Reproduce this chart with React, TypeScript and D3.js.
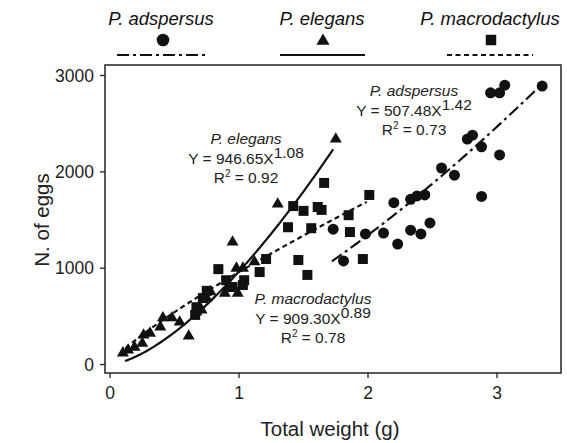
import React from "react";
import * as d3 from "d3";

// ---- data ----
const species = ["P. adspersus", "P. elegans", "P. macrodactylus"];
const coefText = ["507.48", "946.65", "909.30"];
const expText = ["1.42", "1.08", "0.89"];
const r2Text = ["0.73", "0.92", "0.78"];

const adspersusX = [2.95, 3.02, 3.06, 3.35, 2.77, 2.81, 2.88, 3.02, 2.57, 2.67, 2.88, 2.2, 2.33, 2.38, 2.44, 1.73, 1.98, 2.12, 2.23, 2.33, 2.41, 2.48, 1.81];
const adspersusY = [2820, 2820, 2900, 2890, 2340, 2380, 2260, 2175, 2040, 1965, 1745, 1680, 1715, 1750, 1760, 1405, 1355, 1365, 1250, 1395, 1355, 1470, 1075];

const elegansX = [1.75, 1.3, 0.95, 1.12, 0.99, 0.61, 0.1, 0.14, 0.19, 0.25, 0.26, 0.31, 0.39, 0.41, 0.48, 0.54, 0.67, 0.71, 0.75, 0.78, 0.89, 0.92, 0.98, 1.03];
const elegansY = [2340, 1665, 1270, 1065, 740, 295, 120, 150, 180, 220, 305, 325, 390, 485, 485, 440, 545, 565, 690, 755, 740, 795, 1000, 1000];

const macroX = [1.66, 1.42, 1.5, 1.61, 1.64, 1.38, 1.56, 1.85, 2.01, 1.86, 1.21, 1.46, 1.53, 1.96, 0.84, 1.16, 1.04, 1.03, 0.9, 0.75, 0.72, 0.67, 0.66, 0.95];
const macroY = [1885, 1645, 1595, 1635, 1605, 1425, 1415, 1550, 1760, 1375, 1095, 1085, 930, 1095, 990, 960, 875, 825, 875, 765, 690, 595, 515, 805];

// fitted curves as drawn (y = a * x^b)
const fitA = [475, 966, 960];
const fitB = [1.5, 1.53, 0.82];
const fitXmin = [1.72, 0.116, 0.12];
const fitXmax = [3.36, 1.73, 1.99];

const xTicks = [0, 1, 2, 3];
const yTicks = [0, 1000, 2000, 3000];

const FONT = "'Liberation Sans', Arial, Helvetica, sans-serif";
const INK = "#111";

export default function App() {
  const W = 567, H = 443;
  const left = 105, right = 561, top = 65, bottom = 373;
  const x = d3.scaleLinear().domain([-0.0388, 3.496]).range([left, right]);
  const y = d3.scaleLinear().domain([-88, 3109]).range([bottom, top]);

  const series = [
    { xs: adspersusX, ys: adspersusY, shape: d3.symbolCircle, size: 95, dash: "12,4,3,4" },
    { xs: elegansX, ys: elegansY, shape: d3.symbolTriangle, size: 62, dash: "" },
    { xs: macroX, ys: macroY, shape: d3.symbolSquare, size: 100, dash: "5,3.5" },
  ];

  const curve = (i: number) => {
    const pts: [number, number][] = [];
    const n = 80;
    for (let k = 0; k <= n; k++) {
      const xv = fitXmin[i] + ((fitXmax[i] - fitXmin[i]) * k) / n;
      pts.push([xv, fitA[i] * Math.pow(xv, fitB[i])]);
    }
    return d3.line<[number, number]>().x((d) => x(d[0])).y((d) => y(d[1]))(pts) || "";
  };

  const legendCx = [161, 322, 490];
  const legendLine = [[117, 206], [280, 365], [447, 533]];
  const legendSize = [125, 75, 110];

  // annotation anchors (center x, baseline of first line)
  const annot = [
    { cx: 414, by: 96 },
    { cx: 246, by: 144 },
    { cx: 313, by: 304 },
  ];

  return (
    <svg width={W} height={H} style={{ display: "block", position: "absolute", left: 0, top: 0 }} fontFamily={FONT}>
      <rect x={0} y={0} width={W} height={H} fill="#fff" />
      {/* legend */}
      {species.map((s, i) => (
        <g key={"leg" + i}>
          <text x={legendCx[i]} y={25} textAnchor="middle" fontSize={18.5} fontStyle="italic" fill={INK}>{s}</text>
          <path d={d3.symbol().type(series[i].shape).size(legendSize[i])() || ""} transform={`translate(${legendCx[i] + (i === 0 ? 2 : 1)},${i === 1 ? 41 : 40})`} fill={INK} />
          <line x1={legendLine[i][0]} x2={legendLine[i][1]} y1={55} y2={55} stroke={INK} strokeWidth={2.2} strokeDasharray={series[i].dash || undefined} />
        </g>
      ))}

      {/* frame */}
      <rect x={left} y={top} width={right - left} height={bottom - top} fill="none" stroke="#222" strokeWidth={1.5} />
      {xTicks.map((t) => (
        <g key={"xt" + t}>
          <line x1={x(t)} x2={x(t)} y1={bottom} y2={bottom + 5} stroke="#222" strokeWidth={1.3} />
          <text x={x(t)} y={399} textAnchor="middle" fontSize={17.5} fill="#222">{t}</text>
        </g>
      ))}
      {yTicks.map((t) => (
        <g key={"yt" + t}>
          <line x1={left - 5} x2={left} y1={y(t)} y2={y(t)} stroke="#222" strokeWidth={1.3} />
          <text x={94} y={y(t) + 6} textAnchor="end" fontSize={17.5} fill="#222">{t}</text>
        </g>
      ))}
      <text x={330} y={436} textAnchor="middle" fontSize={20.5} fill="#222">Total weight (g)</text>
      <text transform={`translate(49,${220}) rotate(-90)`} textAnchor="middle" fontSize={20.5} fill="#222">N. of eggs</text>

      {/* curves */}
      {series.map((s, i) => (
        <path key={"c" + i} d={curve(i)} fill="none" stroke={INK} strokeWidth={2.2} strokeDasharray={s.dash || undefined} />
      ))}

      {/* points */}
      {series.map((s, i) =>
        s.xs.map((xv, j) => (
          <path key={`p${i}-${j}`} d={d3.symbol().type(s.shape).size(s.size)() || ""} transform={`translate(${x(xv)},${y(s.ys[j])})`} fill={INK} />
        ))
      )}

      {/* annotations */}
      {annot.map((a, i) => (
        <g key={"an" + i} fontSize={15.5} fill="#222">
          <text x={a.cx} y={a.by} textAnchor="middle" fontStyle="italic">{species[i]}</text>
          <text x={a.cx} y={a.by + 19.5} textAnchor="middle">
            {`Y = ${coefText[i]}X`}
            <tspan dy={-6}>{expText[i]}</tspan>
          </text>
          <text x={a.cx} y={a.by + 38.5} textAnchor="middle">
            R<tspan dy={-6} fontSize={10}>2</tspan>
            <tspan dy={6}>{` = ${r2Text[i]}`}</tspan>
          </text>
        </g>
      ))}
    </svg>
  );
}
